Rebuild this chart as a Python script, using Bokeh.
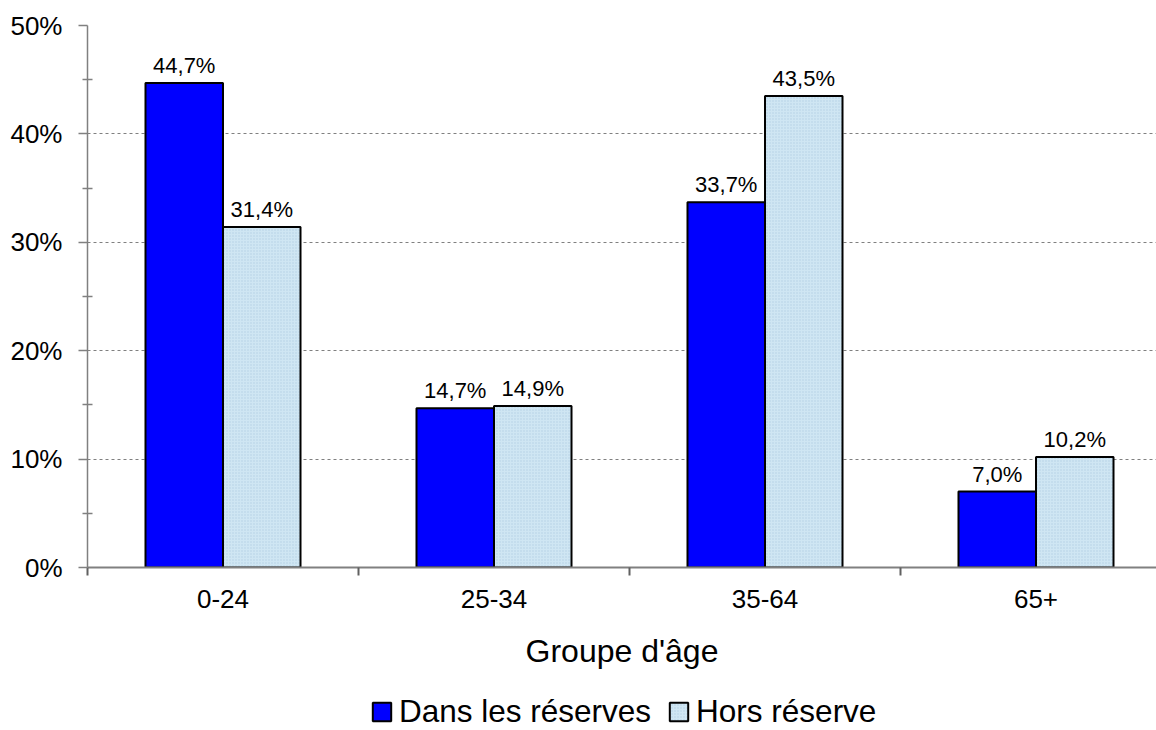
from bokeh.plotting import figure
from bokeh.layouts import column
from bokeh.models import (Range1d, FixedTicker, LabelSet, ColumnDataSource,
                          Legend, LegendItem)
from bokeh.core.properties import value
from bokeh.embed import file_html
from bokeh.resources import INLINE

categories = ["0-24", "25-34", "35-64", "65+"]
dans_reserves = [44.7, 14.7, 33.7, 7.0]
hors_reserve = [31.4, 14.9, 43.5, 10.2]
y_ticks = [0, 10, 20, 30, 40, 50]
y_tick_labels = ["0%", "10%", "20%", "30%", "40%", "50%"]
series_names = ["Dans les réserves", "Hors réserve"]

FONT = "Liberation Sans"
BLUE = "#0000ff"
LIGHT = "#cfe6f3"
HATCH = "#b3d0e2"
off = 0.143
bw = 0.286

centers = [i + 0.5 for i in range(len(categories))]
src_a = ColumnDataSource(dict(x=[c - off for c in centers], top=dans_reserves,
                              lab=[f"{v:.1f}".replace(".", ",") + "%" for v in dans_reserves]))
src_b = ColumnDataSource(dict(x=[c + off for c in centers], top=hors_reserve,
                              lab=[f"{v:.1f}".replace(".", ",") + "%" for v in hors_reserve]))

p = figure(width=1156, height=690, output_backend="svg", toolbar_location=None,
           x_range=Range1d(0, 1069 / 271), y_range=Range1d(0, 50),
           min_border_left=87, min_border_right=0, min_border_top=25,
           min_border_bottom=123)
p.outline_line_color = None
p.background_fill_color = "white"

bar_a = dict(fill_color=BLUE, line_color="black", line_width=2)
bar_b = dict(fill_color=LIGHT, line_color="black", line_width=2,
             hatch_pattern=".", hatch_color=HATCH, hatch_scale=3, hatch_weight=0.6)

p.vbar(x="x", top="top", width=bw, bottom=0, source=src_a, **bar_a)
p.vbar(x="x", top="top", width=bw, bottom=0, source=src_b, **bar_b)

for s in (src_a, src_b):
    p.add_layout(LabelSet(x="x", y="top", text="lab", source=s, text_align="center",
                          text_baseline="alphabetic", y_offset=10,
                          text_font=value(FONT), text_font_size="22px", text_color="black"))

# y axis
ya = p.yaxis[0]
ya.ticker = FixedTicker(ticks=y_ticks, minor_ticks=[5, 15, 25, 35, 45])
ya.major_label_overrides = {t: l for t, l in zip(y_ticks, y_tick_labels)}
ya.axis_line_color = "#808080"
ya.axis_line_width = 1.5
ya.major_tick_line_color = "#808080"
ya.major_tick_line_width = 1.5
ya.major_tick_out = 9
ya.major_tick_in = 0
ya.minor_tick_line_color = "#808080"
ya.minor_tick_line_width = 1.5
ya.minor_tick_out = 5
ya.minor_tick_in = 5
ya.major_label_text_font = FONT
ya.major_label_text_font_size = "26px"
ya.major_label_text_color = "black"
ya.major_label_standoff = 16

# x axis
xa = p.xaxis[0]
xa.ticker = FixedTicker(ticks=centers, minor_ticks=[0, 1, 2, 3])
xa.major_label_overrides = {c: l for c, l in zip(centers, categories)}
xa.axis_line_color = "#808080"
xa.axis_line_width = 2
xa.major_tick_line_color = None
xa.major_tick_out = 0
xa.major_tick_in = 0
xa.minor_tick_line_color = "#606060"
xa.minor_tick_line_width = 2
xa.minor_tick_out = 8
xa.minor_tick_in = 0
xa.major_label_text_font = FONT
xa.major_label_text_font_size = "26px"
xa.major_label_text_color = "black"
xa.major_label_standoff = 14
xa.axis_label = "Groupe d'âge"
xa.axis_label_text_font = FONT
xa.axis_label_text_font_size = "32px"
xa.axis_label_text_font_style = "normal"
xa.axis_label_text_color = "black"
xa.axis_label_standoff = 22

p.xgrid.grid_line_color = None
p.ygrid.ticker = FixedTicker(ticks=[10, 20, 30, 40, 50])
p.ygrid.grid_line_color = "#808080"
p.ygrid.grid_line_dash = "3 3"
p.ygrid.grid_line_width = 1

# legend strip
lg = figure(width=1156, height=40, output_backend="svg", toolbar_location=None,
            x_range=Range1d(0, 1), y_range=Range1d(0, 1),
            min_border_left=87, min_border_right=0, min_border_top=0, min_border_bottom=0)
lg.axis.visible = False
lg.grid.visible = False
lg.outline_line_color = None
swatch = dict(x=[0.5], top=[0.5])
la = lg.vbar(x="x", top="top", width=0.1, source=ColumnDataSource(swatch), visible=False, **bar_a)
lb = lg.vbar(x="x", top="top", width=0.1, source=ColumnDataSource(swatch), visible=False, **bar_b)

legend = Legend(items=[LegendItem(label=series_names[0], renderers=[la]),
                       LegendItem(label=series_names[1], renderers=[lb])],
                orientation="horizontal", location=(283, 0),
                label_text_font=FONT, label_text_font_size="31.5px",
                label_text_color="black", glyph_width=23, glyph_height=23,
                label_standoff=6, spacing=16, padding=0, margin=0,
                border_line_color=None, background_fill_alpha=0,
                inactive_fill_alpha=0, label_height=24)
lg.add_layout(legend, "center")

layout = column(p, lg, spacing=0)
open("out.html", "w").write(file_html(layout, INLINE))
